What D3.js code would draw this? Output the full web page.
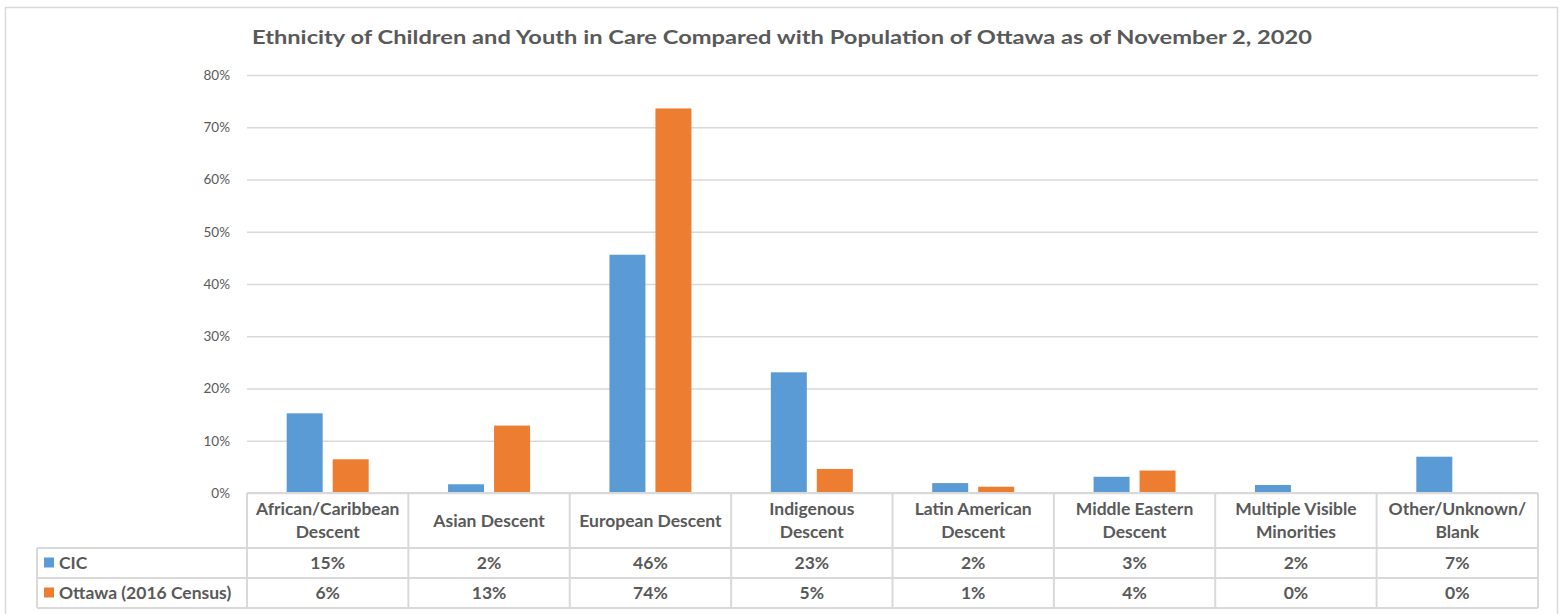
<!DOCTYPE html>
<html>
<head>
<meta charset="utf-8">
<script src="https://cdn.jsdelivr.net/npm/d3@7"></script>
<style>
  html, body { margin: 0; padding: 0; background: #fff; }
  svg { display: block; font-family: Lato, "Open Sans", sans-serif; }
</style>
</head>
<body>
<svg id="chart" width="1561" height="614"></svg>
<script>
const title = "Ethnicity of Children and Youth in Care Compared with Population of Ottawa as of November 2, 2020";
const categories = [
  "African/Caribbean\nDescent",
  "Asian Descent",
  "European Descent",
  "Indigenous\nDescent",
  "Latin American\nDescent",
  "Middle Eastern\nDescent",
  "Multiple Visible\nMinorities",
  "Other/Unknown/\nBlank"
];
const seriesNames = ["CIC", "Ottawa (2016 Census)"];
const cicValues = [0.1525, 0.0167, 0.456, 0.231, 0.019, 0.031, 0.0153, 0.0695];
const ottawaValues = [0.0645, 0.129, 0.736, 0.046, 0.012, 0.043, 0, 0];
const yTicks = [0, 0.1, 0.2, 0.3, 0.4, 0.5, 0.6, 0.7, 0.8];
const colors = ["#5B9BD5", "#ED7D31"];

const seriesValues = [cicValues, ottawaValues];
const textColor = "#595959";
const lineColor = "#D9D9D9";

const svg = d3.select("#chart");

// outer frame
svg.append("rect")
  .attr("x", 5.5).attr("y", 7.5).attr("width", 1552).attr("height", 620)
  .attr("fill", "#fff").attr("stroke", lineColor).attr("stroke-width", 1.5);

// title
svg.append("text")
  .attr("x", 782).attr("y", 44)
  .attr("text-anchor", "middle")
  .attr("font-size", 19.5).attr("font-weight", 700)
  .attr("fill", textColor)
  .attr("textLength", 1060).attr("lengthAdjust", "spacingAndGlyphs")
  .text(title);

const x = d3.scaleBand().domain(categories).range([247, 1538]).padding(0);
const x1 = d3.scaleBand().domain(seriesNames).range([0, x.bandwidth()])
  .paddingInner(0.2174).paddingOuter(0.863);
const y = d3.scaleLinear().domain([0, 0.8]).range([493, 75]);

// gridlines + y labels
const yAxis = d3.axisLeft(y).tickValues(yTicks).tickFormat(d3.format(".0%"))
  .tickSize(-(1538 - 247)).tickPadding(17);
const gy = svg.append("g").attr("transform", "translate(247,0)").call(yAxis);
gy.select(".domain").remove();
gy.selectAll(".tick line").attr("stroke", lineColor).attr("stroke-width", 1.5);
gy.selectAll(".tick text").attr("fill", textColor).attr("font-size", 13.5)
  .attr("font-family", "Lato, 'Open Sans', sans-serif");

// bars
const data = [];
categories.forEach((c, i) => {
  seriesNames.forEach((s, j) => data.push({ c, s, j, v: seriesValues[j][i] }));
});
svg.append("g").selectAll("rect").data(data).join("rect")
  .attr("x", d => x(d.c) + x1(d.s))
  .attr("width", x1.bandwidth())
  .attr("y", d => y(d.v))
  .attr("height", d => y(0) - y(d.v))
  .attr("fill", d => colors[d.j]);

// data table
const tbl = svg.append("g");
const rowTop = 493, headBottom = 548, rowH = 30;
const legendLeft = 37;
const rowYs = [headBottom, headBottom + rowH, headBottom + 2 * rowH];
const fs = 17.5;

// horizontal lines
tbl.append("line").attr("x1", 247).attr("x2", 1538).attr("y1", rowTop).attr("y2", rowTop);
rowYs.forEach(yy => tbl.append("line").attr("x1", legendLeft).attr("x2", 1538).attr("y1", yy).attr("y2", yy));
// vertical lines
const bounds = categories.map(c => x(c)).concat([x.range()[1]]);
bounds.forEach(bx => tbl.append("line").attr("x1", bx).attr("x2", bx).attr("y1", rowTop).attr("y2", rowYs[2]));
tbl.append("line").attr("x1", legendLeft).attr("x2", legendLeft).attr("y1", headBottom).attr("y2", rowYs[2]);
tbl.selectAll("line").attr("stroke", lineColor).attr("stroke-width", 2);

// header labels
categories.forEach(c => {
  const lines = c.split("\n");
  const cx = x(c) + x.bandwidth() / 2;
  const t = tbl.append("text").attr("text-anchor", "middle")
    .attr("font-size", fs).attr("font-weight", 700).attr("fill", textColor);
  const startY = lines.length === 1 ? 527 : 515;
  lines.forEach((ln, k) => t.append("tspan").attr("x", cx).attr("y", startY + k * 23).text(ln));
});

// rows
const fmt = d3.format(".0%");
seriesNames.forEach((s, j) => {
  const ry = rowYs[j];
  tbl.append("rect").attr("x", 44).attr("y", ry + 9.5).attr("width", 10).attr("height", 10)
    .attr("fill", colors[j]);
  tbl.append("text").attr("x", 59).attr("y", ry + 21)
    .attr("font-size", fs).attr("font-weight", 700).attr("fill", textColor).text(s);
  categories.forEach((c, i) => {
    tbl.append("text").attr("x", x(c) + x.bandwidth() / 2).attr("y", ry + 21)
      .attr("text-anchor", "middle").attr("font-size", fs).attr("font-weight", 700)
      .attr("fill", textColor).text(fmt(seriesValues[j][i]));
  });
});
</script>
</body>
</html>
